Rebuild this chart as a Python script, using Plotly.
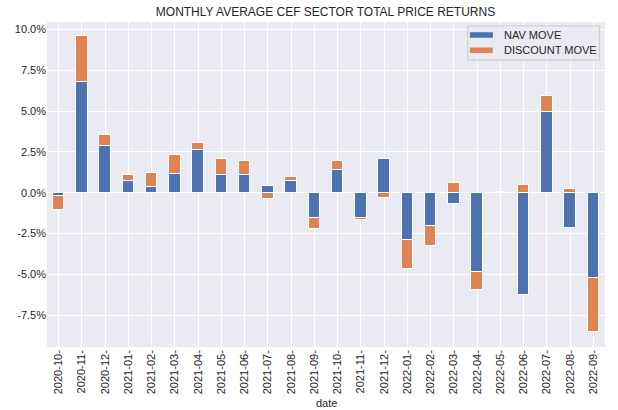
import plotly.graph_objects as go

dates = ["2020-10-", "2020-11-", "2020-12-", "2021-01-", "2021-02-", "2021-03-",
         "2021-04-", "2021-05-", "2021-06-", "2021-07-", "2021-08-", "2021-09-",
         "2021-10-", "2021-11-", "2021-12-", "2022-01-", "2022-02-", "2022-03-",
         "2022-04-", "2022-05-", "2022-06-", "2022-07-", "2022-08-", "2022-09-"]
nav_move = [-0.23, 6.76, 2.85, 0.71, 0.34, 1.14, 2.60, 1.10, 1.10, 0.40, 0.71, -1.53,
            1.38, -1.53, 2.05, -2.87, -2.02, -0.67, -4.83, -0.03, -6.28, 4.93, -2.18, -5.20]
discount_move = [-0.85, 2.81, 0.67, 0.37, 0.86, 1.16, 0.43, 0.95, 0.83, -0.41, 0.24, -0.71,
                 0.55, -0.17, -0.35, -1.81, -1.22, 0.60, -1.14, 0.03, 0.47, 0.98, 0.22, -3.34]
series_names = ["NAV MOVE", "DISCOUNT MOVE"]
series_colors = ["#4C72B0", "#DD8452"]
y_ticks = [-7.5, -5.0, -2.5, 0.0, 2.5, 5.0, 7.5, 10.0]
y_tick_labels = ["-7.5%", "-5.0%", "-2.5%", "0.0%", "2.5%", "5.0%", "7.5%", "10.0%"]

fig = go.Figure()
for vals, name, col in zip([nav_move, discount_move], series_names, series_colors):
    fig.add_trace(go.Bar(x=dates, y=vals, name=name, marker_color=col,
                         marker_line=dict(color="white", width=1), width=0.5))

# matplotlib-style legend drawn in plot-area (paper) coordinates
shapes = [dict(type="rect", xref="paper", yref="paper", x0=0.754, x1=0.990, y0=0.883, y1=0.988,
               fillcolor="rgba(234,234,242,0.8)", line=dict(color="#CCCCCC", width=1), layer="above")]
annotations = []
for i, (name, col) in enumerate(zip(series_names, series_colors)):
    yc = 0.960 - i * 0.047
    shapes.append(dict(type="rect", xref="paper", yref="paper", x0=0.758, x1=0.799,
                       y0=yc - 0.0085, y1=yc + 0.0085, fillcolor=col, line=dict(width=0), layer="above"))
    annotations.append(dict(text=name, xref="paper", yref="paper", x=0.815, y=yc, xanchor="left",
                            yanchor="middle", showarrow=False, font=dict(size=11, color="#262626")))
annotations.append(dict(text="date", xref="paper", yref="paper", x=0.5, y=-0.172, xanchor="center",
                        yanchor="middle", showarrow=False, font=dict(size=11, color="#262626")))

fig.update_layout(
    width=618, height=410,
    barmode="relative",
    showlegend=False,
    paper_bgcolor="white",
    plot_bgcolor="#EAEAF2",
    font=dict(family="Liberation Sans, Arial, sans-serif", size=11, color="#262626"),
    margin=dict(l=47, r=13, t=22, b=63),
    title=dict(text="MONTHLY AVERAGE CEF SECTOR TOTAL PRICE RETURNS", x=0.5267, xanchor="center",
               y=0.9707, yanchor="middle", font=dict(size=12, color="#262626")),
    xaxis=dict(type="category", range=[-0.5, 23.5], showgrid=True, gridcolor="white", gridwidth=1,
               tickangle=-90, ticks="", zeroline=False, showline=False, automargin=False),
    yaxis=dict(range=[-9.45, 10.45], tickvals=y_ticks, ticktext=y_tick_labels, showgrid=True,
               gridcolor="white", gridwidth=1, zeroline=False, ticks="", showline=False,
               automargin=False),
    bargap=0,
    shapes=shapes,
    annotations=annotations,
)

fig.write_html("out.html", config={"displayModeBar": False},
               post_script="document.body.style.margin='0';")
